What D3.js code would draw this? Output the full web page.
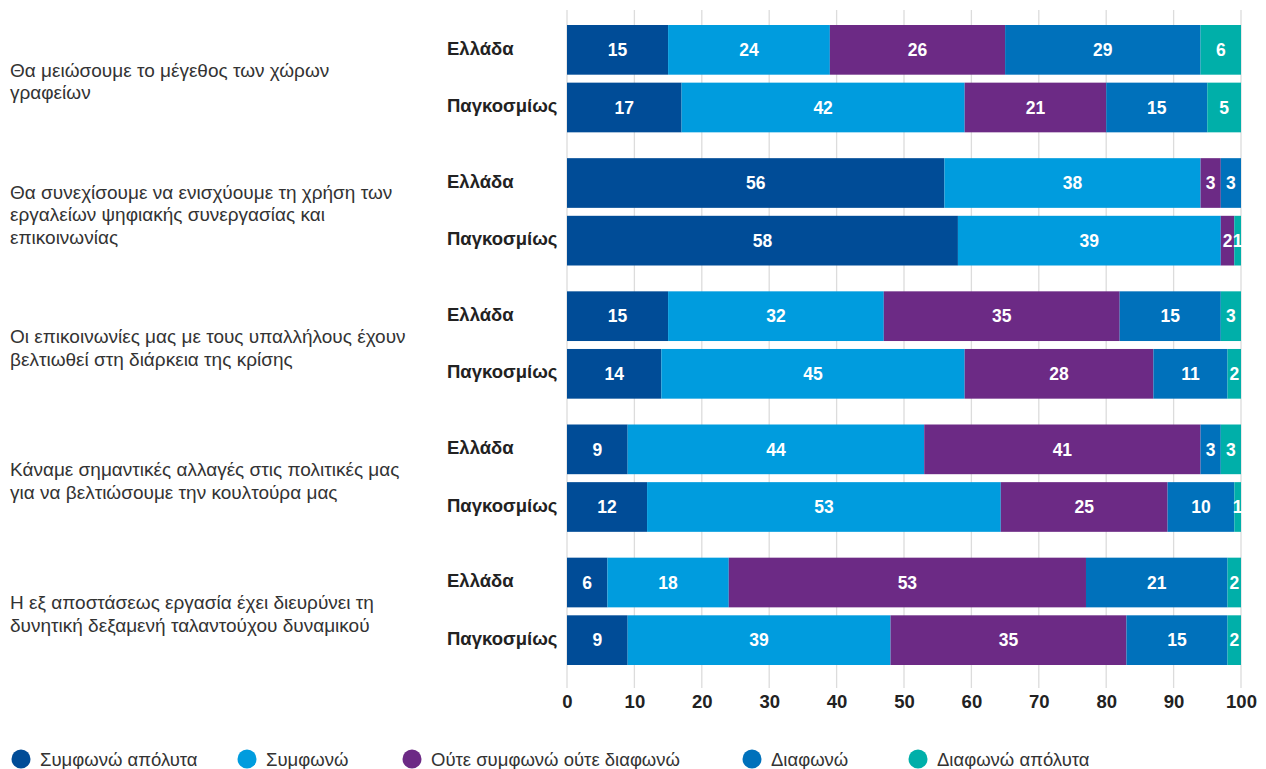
<!DOCTYPE html>
<html>
<head>
<meta charset="utf-8">
<script src="https://cdn.jsdelivr.net/npm/d3@7"></script>
<style>
  html, body { margin: 0; padding: 0; background: #fff; }
  svg { display: block; font-family: "Liberation Sans", Arial, sans-serif; }
</style>
</head>
<body>
<svg id="chart" width="1266" height="769"></svg>
<script>
// Survey statements (each drawn as one group of two stacked bars)
const questions = [
  ["Θα μειώσουμε το μέγεθος των χώρων", "γραφείων"],
  ["Θα συνεχίσουμε να ενισχύουμε τη χρήση των", "εργαλείων ψηφιακής συνεργασίας και", "επικοινωνίας"],
  ["Οι επικοινωνίες μας με τους υπαλλήλους έχουν", "βελτιωθεί στη διάρκεια της κρίσης"],
  ["Κάναμε σημαντικές αλλαγές στις πολιτικές μας", "για να βελτιώσουμε την κουλτούρα μας"],
  ["Η εξ αποστάσεως εργασία έχει διευρύνει τη", "δυνητική δεξαμενή ταλαντούχου δυναμικού"]
];
const regions = ["Ελλάδα", "Παγκοσμίως"];
const answers = ["Συμφωνώ απόλυτα", "Συμφωνώ", "Ούτε συμφωνώ ούτε διαφωνώ", "Διαφωνώ", "Διαφωνώ απόλυτα"];
const colors = ["#004C97", "#009CDE", "#6C2A85", "#0071BB", "#00AFA9"];
const xTicks = [0, 10, 20, 30, 40, 50, 60, 70, 80, 90, 100];

// Percentages per answer, one array per statement and region
const greece = [
  [15, 24, 26, 29, 6],
  [56, 38, 3, 3, 0],
  [15, 32, 35, 15, 3],
  [9, 44, 41, 3, 3],
  [6, 18, 53, 21, 2]
];
const global = [
  [17, 42, 21, 15, 5],
  [58, 39, 2, 0, 1],
  [14, 45, 28, 11, 2],
  [12, 53, 25, 10, 1],
  [9, 39, 35, 15, 2]
];

const svg = d3.select("#chart");

const x = d3.scaleLinear().domain([0, 100]).range([567, 1241]);
const qIdx = d3.range(questions.length);
const yGroup = d3.scaleBand().domain(qIdx).range([25, 665]).paddingInner(0.194).paddingOuter(0);
const yRow = d3.scaleBand().domain(regions).range([0, yGroup.bandwidth()]).paddingInner(0.138).paddingOuter(0);

// Vertical gridlines
svg.append("g")
  .selectAll("line")
  .data(xTicks)
  .join("line")
  .attr("x1", d => x(d)).attr("x2", d => x(d))
  .attr("y1", 10).attr("y2", 688)
  .attr("stroke", "#dcdcdc")
  .attr("stroke-width", 1.3);

// Build the rows of stacked segments; each row is shown as shares of its own
// total, so rounded percentages that add up to 101 still span exactly 0–100
const rows = [];
qIdx.forEach(q => {
  [greece[q], global[q]].forEach((vals, r) => {
    const total = d3.sum(vals);
    let acc = 0;
    const segs = vals.map((v, i) => {
      const w = v * 100 / total;
      const s = { q, region: regions[r], answer: i, value: v, x0: acc, x1: acc + w };
      acc += w;
      return s;
    });
    rows.push({ q, region: regions[r], segs });
  });
});

const rowG = svg.append("g")
  .selectAll("g.row")
  .data(rows)
  .join("g")
  .attr("class", "row")
  .attr("transform", d => `translate(0,${yGroup(d.q) + yRow(d.region)})`);

rowG.selectAll("rect")
  .data(d => d.segs.filter(s => s.value > 0))
  .join("rect")
  .attr("x", s => x(s.x0))
  .attr("width", s => x(s.x1) - x(s.x0))
  .attr("y", 0)
  .attr("height", yRow.bandwidth())
  .attr("fill", s => colors[s.answer]);

rowG.selectAll("text")
  .data(d => d.segs.filter(s => s.value > 0))
  .join("text")
  .attr("x", s => (x(s.x0) + x(s.x1)) / 2)
  .attr("y", yRow.bandwidth() / 2)
  .attr("dy", "0.36em")
  .attr("text-anchor", "middle")
  .attr("fill", "#fff")
  .attr("font-weight", "bold")
  .attr("font-size", 17.5)
  .text(s => s.value);

// Region labels next to each bar
svg.append("g")
  .selectAll("text")
  .data(rows)
  .join("text")
  .attr("x", 447)
  .attr("y", d => yGroup(d.q) + yRow(d.region) + yRow.bandwidth() / 2 - 2)
  .attr("dy", "0.36em")
  .attr("fill", "#222")
  .attr("font-weight", "bold")
  .attr("font-size", 18.5)
  .text(d => d.region);

// Statement text, vertically centred on its group
const lineH = 22.5;
const qText = svg.append("g")
  .selectAll("text")
  .data(qIdx)
  .join("text")
  .attr("x", 10)
  .attr("fill", "#333")
  .attr("font-size", 19)
  .attr("y", q => yGroup(q) + yGroup.bandwidth() / 2 + 2.5 - (questions[q].length - 1) * lineH / 2);
qText.selectAll("tspan")
  .data(q => questions[q])
  .join("tspan")
  .attr("x", 10)
  .attr("dy", (d, i) => i === 0 ? "0.36em" : lineH)
  .text(d => d);

// Bottom axis labels
const axis = d3.axisBottom(x).tickValues(xTicks).tickSize(0).tickPadding(0);
const axG = svg.append("g").attr("transform", "translate(0,689)").call(axis);
axG.select(".domain").remove();
axG.selectAll("text")
  .attr("font-family", "Liberation Sans, Arial, sans-serif")
  .attr("font-size", 18.5)
  .attr("font-weight", "bold")
  .attr("fill", "#222")
  .attr("dy", "1em");

// Legend
const legendX = [21, 247, 412, 752, 918];
const leg = svg.append("g")
  .selectAll("g")
  .data(answers)
  .join("g")
  .attr("transform", (d, i) => `translate(${legendX[i]},759)`);
leg.append("circle").attr("r", 9.5).attr("fill", (d, i) => colors[i]);
leg.append("text")
  .attr("x", 19)
  .attr("dy", "0.36em")
  .attr("font-size", 18.5)
  .attr("fill", "#333")
  .text(d => d);
</script>
</body>
</html>
